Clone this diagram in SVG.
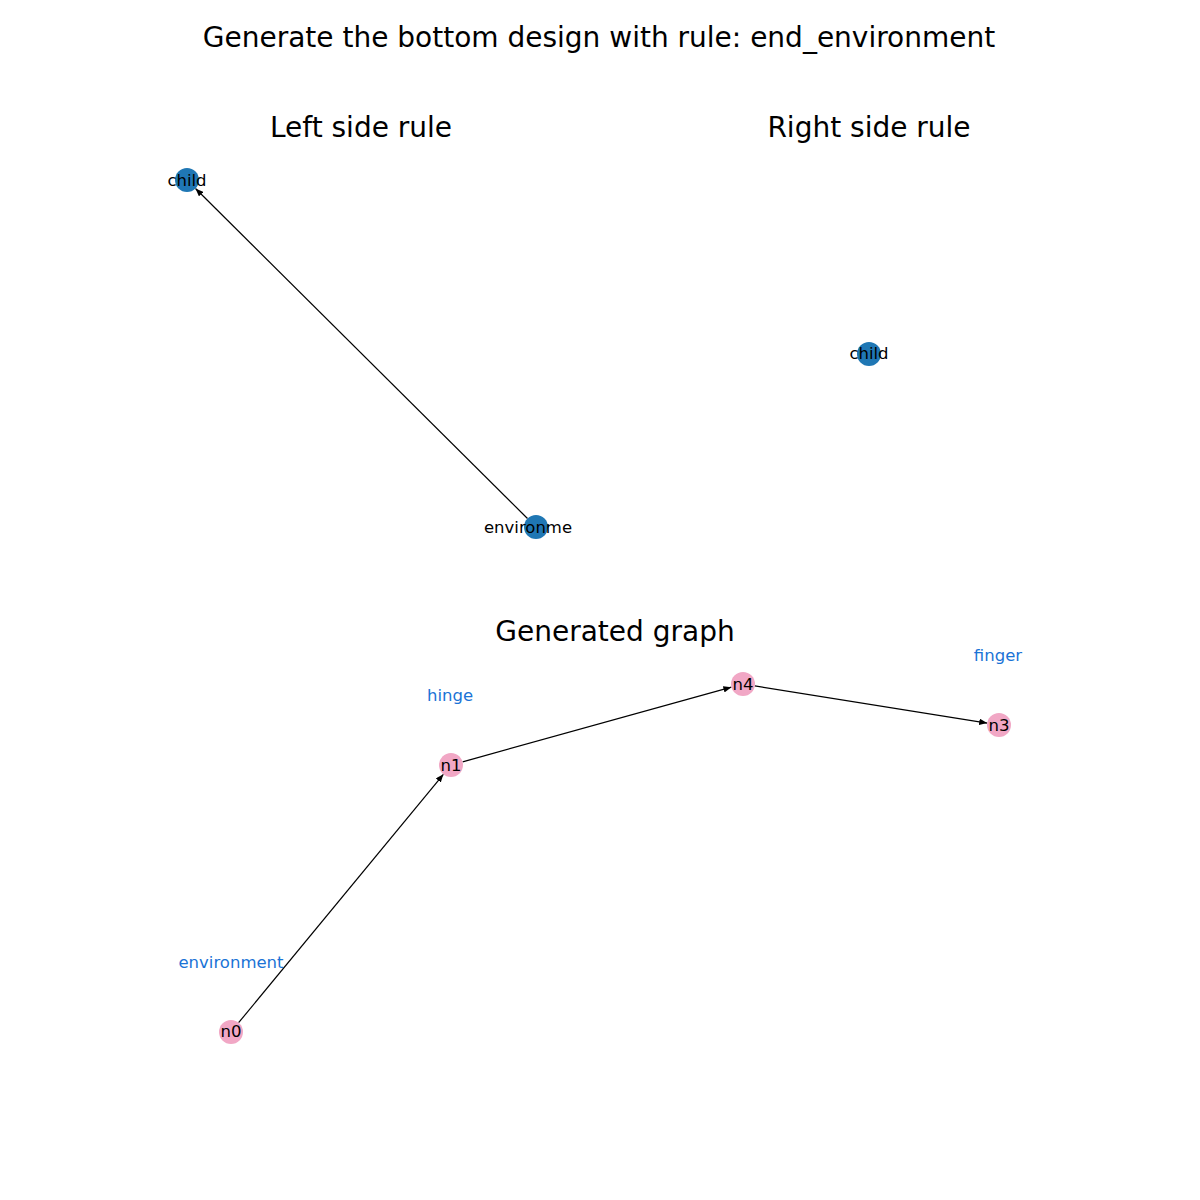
<svg xmlns="http://www.w3.org/2000/svg" width="1200" height="1200" viewBox="0 0 1200 1200">
<style>
text{font-family:"DejaVu Sans",sans-serif;}
.title{font-size:28px;text-anchor:middle;fill:#000;}
.sub{font-size:28px;text-anchor:middle;fill:#000;}
.nl{font-size:16.5px;text-anchor:middle;dominant-baseline:central;fill:#000;}
.lab{font-size:16.5px;text-anchor:middle;dominant-baseline:central;fill:#1a73d6;}
.blue{fill:#1f77b4;}
.pink{fill:#f1a7c5;}
.edge{stroke:#000;stroke-width:1.2;fill:none;marker-end:url(#ah);}
</style>
<defs>
<marker id="ah" viewBox="0 0 10 8" refX="10" refY="4" markerWidth="8" markerHeight="6.4" markerUnits="userSpaceOnUse" orient="auto">
<path d="M0,0 L10,4 L0,8 Z" fill="#000"/>
</marker>
</defs>
<rect width="1200" height="1200" fill="#fff"/>
<text class="title" x="599" y="47">Generate the bottom design with rule: end_environment</text>
<text class="sub" x="361" y="137">Left side rule</text>
<text class="sub" x="869" y="137">Right side rule</text>
<text class="sub" x="615" y="641">Generated graph</text>
<g id="edges">
<line class="edge" x1="527.5" y1="518.5" x2="195.5" y2="188.5"/>
<line class="edge" x1="238.6" y1="1022.7" x2="443.4" y2="774.3"/>
<line class="edge" x1="462.6" y1="761.8" x2="731.4" y2="687.2"/>
<line class="edge" x1="754.8" y1="685.9" x2="987.2" y2="723.1"/>
</g>
<g id="node-child-left"><circle class="blue" cx="187" cy="180" r="12"/><text class="nl" x="187" y="180">child</text></g>
<g id="node-environme"><circle class="blue" cx="536" cy="527" r="12"/><text class="nl" x="528" y="527">environme</text></g>
<g id="node-child-right"><circle class="blue" cx="869" cy="354" r="12"/><text class="nl" x="869" y="353">child</text></g>
<g id="node-n0"><circle class="pink" cx="231" cy="1032" r="12"/><text class="nl" x="231" y="1031">n0</text></g>
<g id="node-n1"><circle class="pink" cx="451" cy="765" r="12"/><text class="nl" x="451" y="765">n1</text></g>
<g id="node-n4"><circle class="pink" cx="743" cy="684" r="12"/><text class="nl" x="743" y="684">n4</text></g>
<g id="node-n3"><circle class="pink" cx="999" cy="725" r="12"/><text class="nl" x="999" y="725">n3</text></g>
<g id="labels">
<text class="lab" x="450" y="695">hinge</text>
<text class="lab" x="998" y="655">finger</text>
<text class="lab" x="231" y="962">environment</text>
</g>
</svg>
